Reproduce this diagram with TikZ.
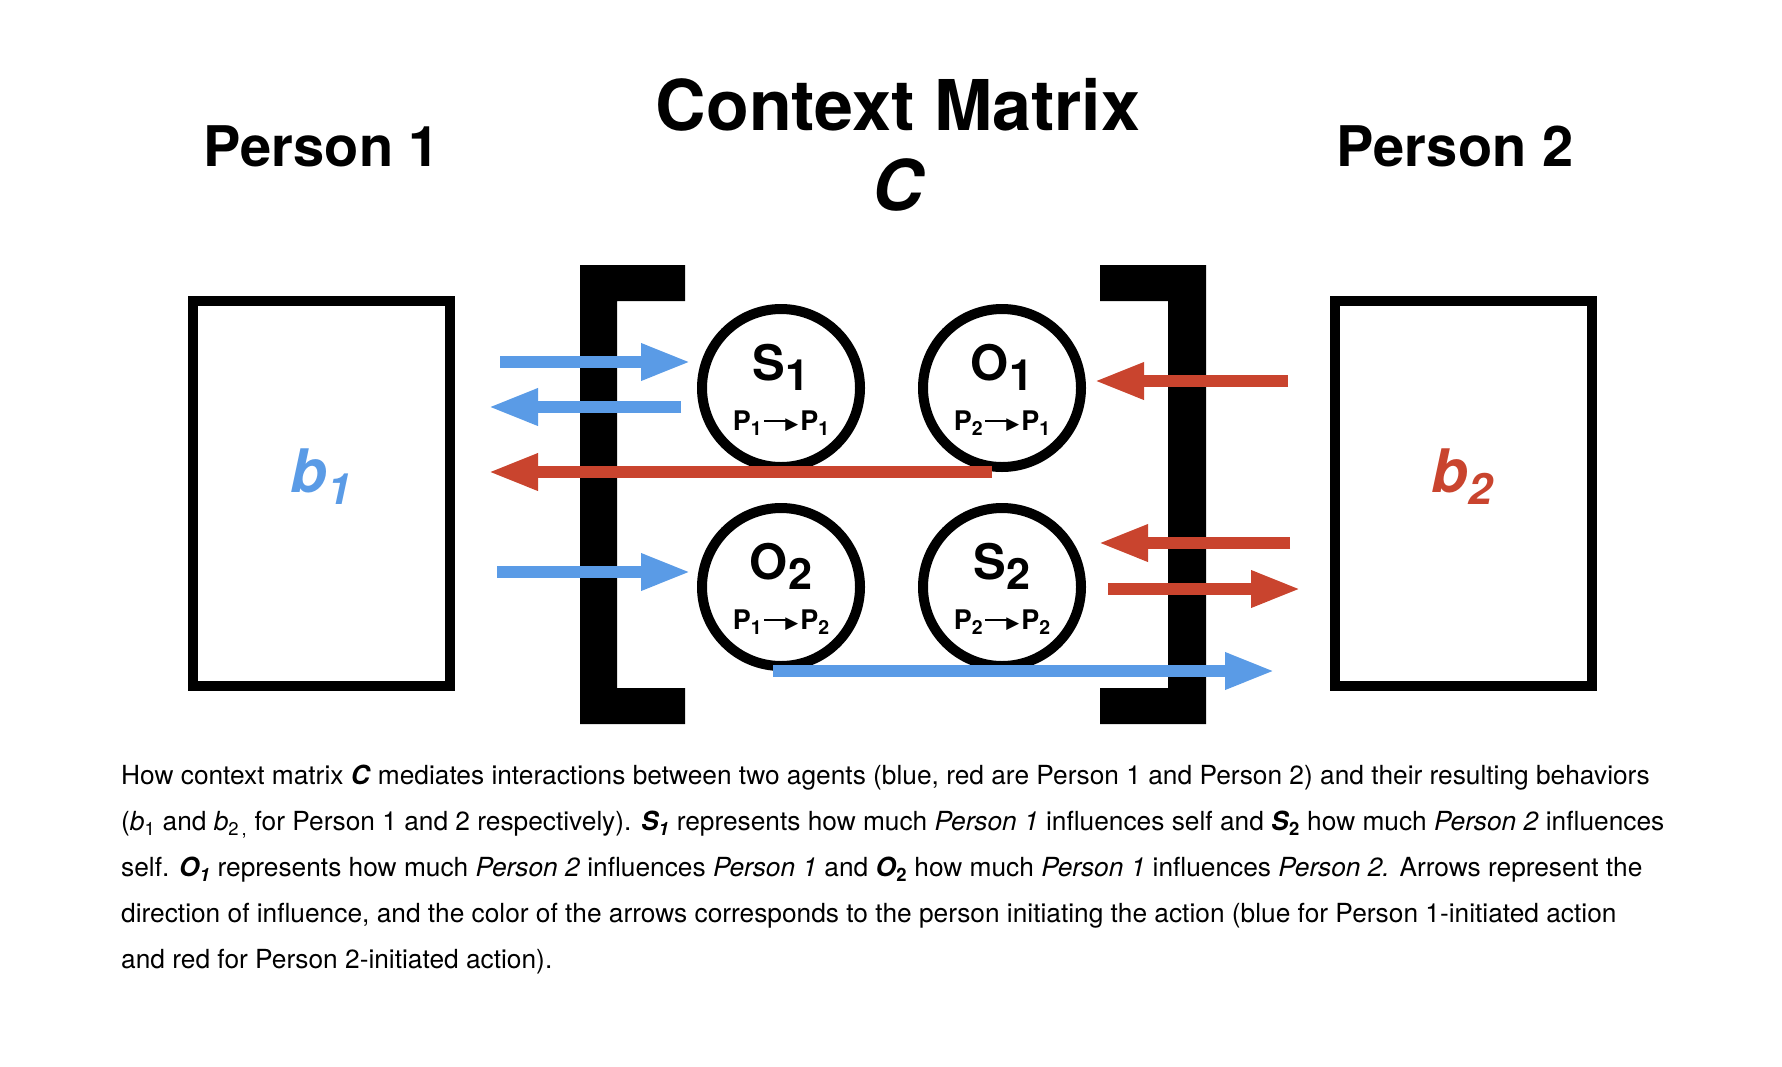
\documentclass[tikz,border=0pt]{standalone}
\usepackage{fontspec}
\setmainfont{TeX Gyre Heros}
\newfontfamily\symfont{DejaVu Sans}
\usepackage{tikz}
\usetikzlibrary{arrows.meta}
\usepackage{xcolor}
\usepackage{graphicx}
\definecolor{pblue}{HTML}{5A9BE6}
\definecolor{pred}{HTML}{C9442E}
\newcommand{\Psub}[1]{\raisebox{-0.2em}{\scalebox{0.72}{#1}}}
\newcommand{\Bsub}[1]{\raisebox{-0.2em}{\scalebox{0.88}{#1}}}
\newcommand{\Pone}[1]{\textcolor{pblue}{#1}}
\newcommand{\Ptwo}[1]{\textcolor{pred}{#1}}
\newcommand{\Parr}{\kern0.1em\rule[0.3em]{0.9em}{0.09em}\kern-0.12em\raisebox{0.04em}{\scalebox{0.62}{\symfont ▶}}\kern0.08em}
\newcommand{\Pflow}[2]{{\fontsize{27}{27}\selectfont P\Psub{#1}\Parr P\Psub{#2}}}
\tikzset{
  personbox/.style={rectangle,draw,line width=10pt,minimum width=257pt,minimum height=385pt,inner sep=0pt},
  entry/.style={circle,draw,line width=10pt,minimum size=158pt,inner sep=0pt,align=center,text height=90pt,font=\fontsize{49}{50}\selectfont\bfseries},
  heading/.style={font=\fontsize{56}{66}\selectfont\bfseries,inner sep=0pt},
  barrow/.style={draw=pblue,line width=12pt,-{Triangle[length=50pt,width=34pt]}},
  rarrow/.style={draw=pred,line width=12pt,-{Triangle[length=50pt,width=34pt]}}
}

\begin{document}
\begin{tikzpicture}[x=1pt,y=-1pt]
\useasboundingbox (0,0) rectangle (1782,1066);
% \draw[help lines,step=100] (0,0) grid (1782,1066);
\node (t1) [heading] at (322,146) {Person 1};
\node (t2) [heading] at (1455,146) {Person 2};
\node (tc) [heading,font=\fontsize{70}{80}\selectfont\bfseries] at (898,105) {Context Matrix};
\node (tcc) [heading,font=\fontsize{70}{80}\selectfont\bfseries\itshape] at (898,185) {C};
%
\node (p1) [personbox] at (321,493) {};
\node (p2) [personbox] at (1463,493) {};
\node (b1) [inner sep=0pt,font=\fontsize{60}{60}\selectfont\bfseries\itshape] at (321,477) {\Pone{b\Psub{1}}};
\node (b2) [inner sep=0pt,font=\fontsize{60}{60}\selectfont\bfseries\itshape] at (1462,477) {\Ptwo{b\Psub{2}}};
%
\fill (580,265) -- (685,265) -- (685,301) -- (617,301) -- (617,688) -- (685,688)
  -- (685,724) -- (580,724) -- cycle;
\fill (1206,265) -- (1100,265) -- (1100,301) -- (1168,301) -- (1168,688) -- (1100,688)
  -- (1100,724) -- (1206,724) -- cycle;
%
\node (s1) [entry] at (781,388) {S\Bsub{1}\\[0pt]\Pflow{1}{1}};
\node (o1) [entry] at (1002,388) {O\Bsub{1}\\[0pt]\Pflow{2}{1}};
\node (o2) [entry] at (781,587) {O\Bsub{2}\\[0pt]\Pflow{1}{2}};
\node (s2) [entry] at (1002,587) {S\Bsub{2}\\[0pt]\Pflow{2}{2}};
%
\coordinate (l1) at (500,362);  \coordinate (r1) at (691,362);
\coordinate (l2) at (488,407);  \coordinate (r2) at (681,407);
\coordinate (l3) at (488,472);
\coordinate (l4) at (1094,381); \coordinate (r4) at (1288,381);
\coordinate (l5) at (497,572);  \coordinate (r5) at (691,572);
\coordinate (l6) at (1098,543); \coordinate (r6) at (1290,543);
\coordinate (l7) at (1108,589); \coordinate (r7) at (1301,589);
\coordinate (r8) at (1275,671);
%
{\draw[barrow] (l1) -- (r1);
\draw[barrow] (r2) -- (l2);
\draw[barrow] (l5) -- (r5);
\draw[barrow] ([xshift=-8pt]o2.south) -- (r8);}
{\draw[rarrow] ([xshift=-10pt]o1.south) -- (l3);
\draw[rarrow] (r4) -- (l4);
\draw[rarrow] (r6) -- (l6);
\draw[rarrow] (l7) -- (r7);}
%
\node (cap) [anchor=north west,align=left,inner sep=0pt,font=\fontsize{26.3}{46}\selectfont] at (121,765)
{How context matrix \textbf{\textit{C}} mediates interactions between two agents (blue, red are Person 1 and Person 2) and their resulting behaviors\\
(\textit{b}\textsubscript{1} and \textit{b}\textsubscript{2\,,} for Person 1 and 2 respectively). \textbf{\textit{S\textsubscript{1}}} represents how much \textit{Person 1} influences self and \textbf{\textit{S}\textsubscript{2}} how much \textit{Person 2} influences\\
self. \textbf{\textit{O\textsubscript{1}}} represents how much \textit{Person 2} influences \textit{Person 1} and \textbf{\textit{O}\textsubscript{2}} how much \textit{Person 1} influences \textit{Person 2.} Arrows represent the\\
direction of influence, and the color of the arrows corresponds to the person initiating the action (blue for Person 1-initiated action\\
and red for Person 2-initiated action).};
\end{tikzpicture}
\end{document}
